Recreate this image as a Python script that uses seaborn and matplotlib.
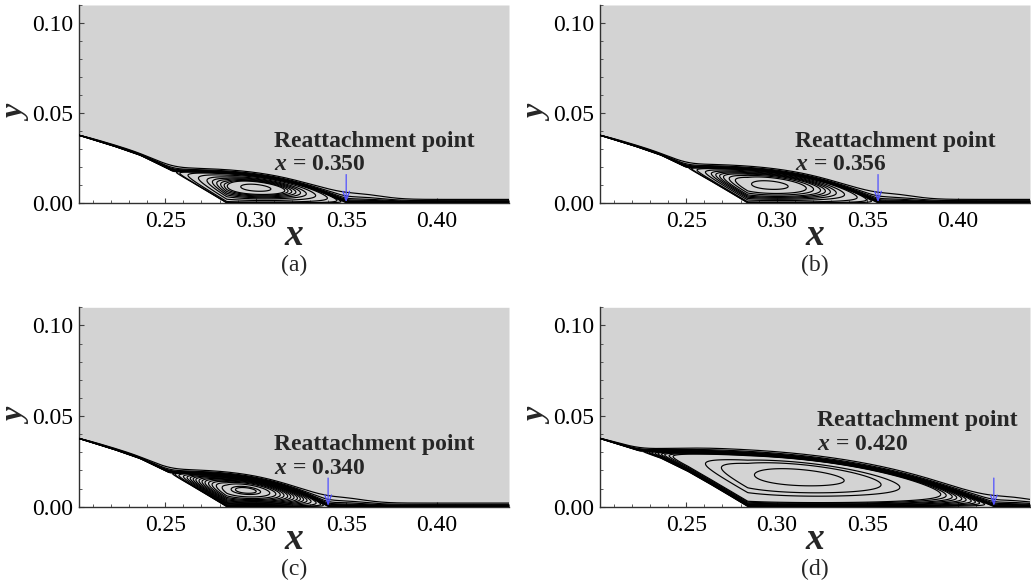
import numpy as np
import pandas as pd
import matplotlib
matplotlib.use("Agg")
import matplotlib.pyplot as plt
import seaborn as sns

# ---- geometry and flow data -------------------------------------------------
# solid ramp surface (x, y in m)
wall_x = [0.200, 0.221, 0.236, 0.251, 0.264, 0.275, 0.280, 0.284, 0.440]
wall_y = [0.0383, 0.0318, 0.0266, 0.0193, 0.0119, 0.0054, 0.0024, 0.0, 0.0]

panels = ["(a)", "(b)", "(c)", "(d)"]
separation_x = [0.254, 0.250, 0.252, 0.224]
reattachment_x = [0.350, 0.356, 0.340, 0.420]
vortex_x = [0.300, 0.296, 0.2945, 0.312]
vortex_y = [0.0085, 0.0100, 0.0090, 0.0185]

# closed streamlines inside the separation bubble (normalised stream function)
bubble_levels = [
    [0.008, 0.025, 0.10, 0.25, 0.40, 0.50, 0.58, 0.65, 0.71, 0.76, 0.93],
    [0.008, 0.025, 0.08, 0.20, 0.30, 0.38, 0.45, 0.52, 0.62, 0.72, 0.92],
    [0.008, 0.02, 0.05, 0.10, 0.15, 0.20, 0.25, 0.30, 0.36, 0.42, 0.48,
     0.55, 0.62, 0.70, 0.80, 0.92, 0.96],
    [0.005, 0.012, 0.02, 0.03, 0.045, 0.06, 0.08, 0.10, 0.13, 0.16, 0.45,
     0.60, 0.86],
]

# outer streamlines: offsets above the dividing streamline
outer_offsets = [0.0, 0.05, 0.10, 0.16, 0.23, 0.32, 0.45, 0.65, 1.0]
layer_spread = [0.0020, 0.0020, 0.0020, 0.0024]
reattach_spread = [0.0030, 0.0030, 0.0030, 0.0030]

label_x = [0.310, 0.310, 0.310, 0.322]
label_y = [0.0313, 0.0313, 0.0313, 0.0444]

# ---- style ------------------------------------------------------------------
sns.set_theme(style="ticks")
plt.rcParams["font.family"] = ["Liberation Serif", "DejaVu Serif"]
plt.rcParams["mathtext.fontset"] = "custom"
plt.rcParams["mathtext.it"] = "Liberation Serif:italic:bold"
plt.rcParams["mathtext.rm"] = "Liberation Serif:bold"
plt.rcParams["mathtext.bf"] = "Liberation Serif:bold"

FLUID = "#d3d3d3"
ARROW = "#5050ff"
LW = 0.85
XMIN, XMAX, YMIN, YMAX = 0.2023, 0.440, 0.0, 0.110


def wall(x):
    return np.interp(x, wall_x, wall_y)


def dividing(x, xs, xr):
    ys = wall(xs)
    u = np.clip((x - xs) / (xr - xs), 0.0, 1.0)
    top = ys * (1.0 - 0.1 * u - 0.9 * u ** 3)
    inside = np.maximum(top, wall(x))
    return np.where(x < xs, wall(x), np.where(x > xr, 0.0, inside))


def smooth(y, dx, sigma):
    n = int(4 * sigma / dx) + 1
    k = np.exp(-0.5 * (np.arange(-n, n + 1) * dx / sigma) ** 2)
    k /= k.sum()
    yp = np.pad(y, n, mode="edge")
    return np.convolve(yp, k, mode="same")[n:-n]


def smoothstep(v):
    v = np.clip(v, 0.0, 1.0)
    return v * v * (3 - 2 * v)


fig = plt.figure(figsize=(10.31, 5.81), dpi=100)
W, H = 1031.0, 581.0
boxes = [(79, 5, 509, 203), (600, 5, 1030, 203),
         (79, 307.3, 509, 506.7), (600, 307.3, 1030, 506.7)]

for i, name in enumerate(panels):
    l, t, r, b = boxes[i]
    ax = fig.add_axes([l / W, 1 - b / H, (r - l) / W, (b - t) / H])
    ax.set_facecolor("white")
    xs, xr = separation_x[i], reattachment_x[i]

    # fluid domain above the wall
    ax.fill_between(wall_x, wall_y, YMAX, color=FLUID, lw=0, zorder=0)

    # outer streamlines
    dx = 0.0002
    xg = np.arange(0.19, 0.46, dx)
    bg = dividing(xg, xs, xr)
    spread = (layer_spread[i] * (0.25 + 0.75 * smoothstep((xg - 0.20) / 0.07))
              + reattach_spread[i] * np.exp(-((xg - xr - 0.006) / 0.018) ** 2))
    rows = []
    for k, d in enumerate(outer_offsets):
        yk = smooth(bg, dx, 0.0008 + 0.006 * d) + d * spread
        rows.append(pd.DataFrame({"x": xg, "y": yk, "line": k}))
    outer = pd.concat(rows, ignore_index=True)
    sns.lineplot(data=outer, x="x", y="y", units="line", estimator=None,
                 sort=False, color="black", lw=LW, legend=False, ax=ax,
                 zorder=3)

    # recirculation bubble
    S, T = np.meshgrid(np.linspace(0, 1, 600), np.linspace(0, 1, 320))
    X = xs + S * (xr - xs)
    lo = wall(X)
    hi = dividing(X, xs, xr)
    Y = lo + T * (hi - lo)
    sc = (vortex_x[i] - xs) / (xr - xs)
    xc_line = np.array([vortex_x[i]])
    tc = (vortex_y[i] - wall(xc_line)[0]) / (dividing(xc_line, xs, xr)[0]
                                            - wall(xc_line)[0])
    gs = np.log(0.5) / np.log(sc)
    gt = np.clip(np.log(0.5) / np.log(tc), 0.8, 1.4)
    F = np.sin(np.pi * S ** gs) ** 2 * np.sin(np.pi * T ** gt) ** 0.8
    ax.contour(X, Y, F, levels=bubble_levels[i], colors="black",
               linewidths=LW, zorder=3)

    # reattachment marker
    ax.annotate("", xy=(xr, 0.0004), xytext=(xr, 0.0158),
                arrowprops=dict(arrowstyle="->,head_length=0.55,head_width=0.2",
                                color=ARROW, lw=0.9, shrinkA=0, shrinkB=0),
                zorder=5)
    ax.text(label_x[i], label_y[i], "Reattachment point", fontsize=17,
            fontweight="bold", ha="left", va="baseline", zorder=6)
    ax.text(label_x[i], label_y[i] - 0.0130, f"$x$ = {xr:.3f}", fontsize=17,
            fontweight="bold", ha="left", va="baseline", zorder=6)

    # axes
    ax.set_xlim(XMIN, XMAX)
    ax.set_ylim(YMIN, YMAX)
    ax.set_xticks([0.25, 0.30, 0.35, 0.40])
    ax.set_xticklabels(["0.25", "0.30", "0.35", "0.40"])
    ax.set_xticks(np.arange(0.21, 0.441, 0.01), minor=True)
    ax.set_yticks([0.00, 0.05, 0.10])
    ax.set_yticklabels(["0.00", "0.05", "0.10"])
    ax.set_yticks(np.arange(0.0, 0.111, 0.01), minor=True)
    ax.tick_params(which="both", direction="in", colors="#404040",
                   labelcolor="black", labelsize=17)
    ax.tick_params(axis="x", which="major", pad=6)
    ax.tick_params(axis="y", which="major", pad=4)
    ax.tick_params(which="major", length=3.8, width=0.8)
    ax.tick_params(which="minor", length=2.2, width=0.6)
    for side in ("top", "right"):
        ax.spines[side].set_visible(False)
    for side in ("left", "bottom"):
        ax.spines[side].set_color("#303030")
        ax.spines[side].set_linewidth(1.0)
    ax.set_xlabel("")
    ax.set_ylabel("")
    ax.text(0.5, -0.165, "$x$", transform=ax.transAxes, fontsize=27,
            ha="center", va="center")
    ax.text(-0.145, 0.465, "$y$", transform=ax.transAxes, fontsize=23,
            rotation=90, ha="center", va="center")
    ax.text(0.5, -0.313, name, transform=ax.transAxes, fontsize=17,
            ha="center", va="center")

fig.savefig("out.png", dpi=100)
